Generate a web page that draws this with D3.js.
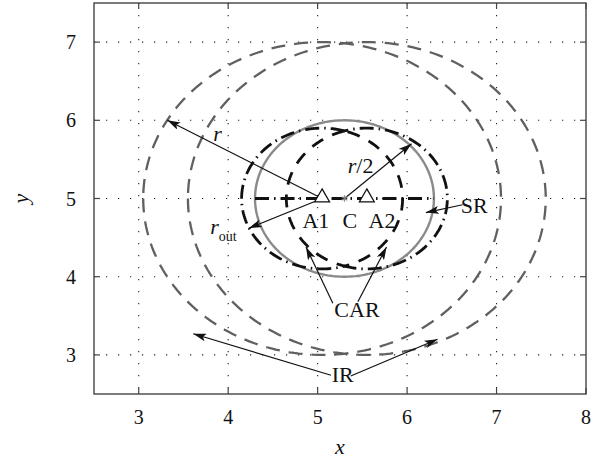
<!DOCTYPE html>
<html>
<head>
<meta charset="utf-8">
<script src="https://cdn.jsdelivr.net/npm/d3@7"></script>
<style>
body { margin: 0; background: #fff; }
text { font-family: "Liberation Serif", "DejaVu Serif", serif; fill: #111; }
</style>
</head>
<body>
<svg id="chart"></svg>
<script>
// values
const xTicks = [3, 4, 5, 6, 7, 8];
const yTicks = [3, 4, 5, 6, 7];
const anchorNames = ["A1", "A2"];
const anchorX = [5.05, 5.55];
const anchorY = [5, 5];
const centreX = 5.3, centreY = 5;
const rangeR = 2;     // r
const outR = 0.9;     // r_out
const halfR = 1;      // r/2

// arrows: tail -> tip, data units
const arrowFrom = [[5.05, 5], [5.05, 5], [5.3, 5], [6.62, 4.92], [5.17, 3.66], [5.45, 3.68], [5.15, 2.74], [5.37, 2.73]];
const arrowTo = [[3.32, 6], [4.23, 4.62], [6.05, 5.7], [6.21, 4.82], [4.87, 4.38], [5.77, 4.38], [3.61, 3.27], [6.34, 3.2]];

const labelText = ["A1", "C", "A2", "SR", "CAR", "IR"];
const labelX = [4.98, 5.36, 5.72, 6.75, 5.44, 5.28];
const labelY = [4.62, 4.62, 4.62, 4.82, 3.48, 2.65];

const margin = { top: 3, right: 27, bottom: 69, left: 94 },
    width = 613 - margin.left - margin.right,
    height = 463 - margin.top - margin.bottom;

const svg = d3.select("#chart")
    .attr("width", 613)
    .attr("height", 463);

const g = svg.append("g")
    .attr("transform", `translate(${margin.left},${margin.top})`);

const x = d3.scaleLinear().domain([2.5, 8]).range([0, width]);
const y = d3.scaleLinear().domain([2.5, 7.5]).range([height, 0]);

svg.append("defs").append("marker")
    .attr("id", "head")
    .attr("viewBox", "0 0 13 8")
    .attr("refX", 13).attr("refY", 4)
    .attr("markerWidth", 13).attr("markerHeight", 8)
    .attr("markerUnits", "userSpaceOnUse")
    .attr("orient", "auto")
    .append("path")
    .attr("d", "M0,0 L13,4 L0,8 L3,4 Z")
    .attr("fill", "#111");

// dotted grid
g.selectAll(".gx").data(xTicks.filter(d => d < 8)).enter().append("line")
    .attr("x1", d => x(d)).attr("x2", d => x(d))
    .attr("y1", 0).attr("y2", height)
    .attr("stroke", "#222").attr("stroke-width", 1.1)
    .attr("stroke-dasharray", "1.2,10.8");
g.selectAll(".gy").data(yTicks).enter().append("line")
    .attr("y1", d => y(d)).attr("y2", d => y(d))
    .attr("x1", 0).attr("x2", width)
    .attr("stroke", "#222").attr("stroke-width", 1.1)
    .attr("stroke-dasharray", "1.2,10.8");

// circle helper in data space
function arcPts(cx, cy, r, a0, a1, n) {
    const pts = [];
    for (let i = 0; i <= n; i++) {
        const a = a0 + (a1 - a0) * i / n;
        pts.push([cx + r * Math.cos(a), cy + r * Math.sin(a)]);
    }
    return pts;
}
const line = d3.line().x(d => x(d[0])).y(d => y(d[1]));

// IR circles
anchorX.forEach((ax, i) => {
    g.append("path")
        .attr("d", line(arcPts(ax, anchorY[i], rangeR, Math.PI, 3 * Math.PI, 240)))
        .attr("fill", "none").attr("stroke", "#606060")
        .attr("stroke-width", 2.3).attr("stroke-dasharray", "14,9");
});

// SR circle
g.append("path")
    .attr("d", line(arcPts(centreX, centreY, halfR, 0, 2 * Math.PI, 200)))
    .attr("fill", "none").attr("stroke", "#8a8a8a").attr("stroke-width", 2.4);

// CAR: union (dash-dot) and lens (dashed) of the r_out circles
const t0 = Math.acos((anchorX[1] - anchorX[0]) / 2 / outR);
const unionPts = arcPts(anchorX[0], anchorY[0], outR, t0, 2 * Math.PI - t0, 120)
    .concat(arcPts(anchorX[1], anchorY[1], outR, -Math.PI + t0, Math.PI - t0, 120));
const lensPts = arcPts(anchorX[1], anchorY[1], outR, Math.PI - t0, Math.PI + t0, 80)
    .concat(arcPts(anchorX[0], anchorY[0], outR, -t0, t0, 80));
g.append("path").attr("d", line(unionPts) + "Z")
    .attr("fill", "none").attr("stroke", "#111").attr("stroke-width", 2.8)
    .attr("stroke-dasharray", "14,5,1.5,5");
g.append("path").attr("d", line(lensPts) + "Z")
    .attr("fill", "none").attr("stroke", "#111").attr("stroke-width", 2.8)
    .attr("stroke-dasharray", "13,10");

// diameter through C
g.append("line")
    .attr("x1", x(centreX - halfR)).attr("x2", x(centreX + halfR))
    .attr("y1", y(centreY)).attr("y2", y(centreY))
    .attr("stroke", "#111").attr("stroke-width", 2.8)
    .attr("stroke-dasharray", "14,5,1.5,5");

// arrows
g.selectAll(".arrow").data(arrowFrom).enter().append("line")
    .attr("x1", d => x(d[0])).attr("y1", d => y(d[1]))
    .attr("x2", (d, i) => x(arrowTo[i][0])).attr("y2", (d, i) => y(arrowTo[i][1]))
    .attr("stroke", "#111").attr("stroke-width", 1.2)
    .attr("marker-end", "url(#head)");

// anchors and centre
g.selectAll(".anchor").data(anchorX).enter().append("path")
    .attr("transform", (d, i) => `translate(${x(d)},${y(anchorY[i]) - 1})`)
    .attr("d", d3.symbol(d3.symbolTriangle, 95))
    .attr("fill", "#fff").attr("stroke", "#111").attr("stroke-width", 1.3);
g.append("path")
    .attr("transform", `translate(${x(centreX)},${y(centreY)})`)
    .attr("d", d3.symbol(d3.symbolAsterisk, 30))
    .attr("fill", "none").attr("stroke", "#888").attr("stroke-width", 1.2);

// text labels
g.selectAll(".lab").data(labelText).enter().append("text")
    .attr("x", (d, i) => x(labelX[i])).attr("y", (d, i) => y(labelY[i]))
    .attr("text-anchor", "middle").style("font-size", "22px")
    .text(d => d);

g.append("text").attr("x", x(3.88)).attr("y", y(5.74))
    .attr("text-anchor", "middle").style("font-size", "22px").style("font-style", "italic")
    .text("r");
const ro = g.append("text").attr("x", x(3.8)).attr("y", y(4.55))
    .style("font-size", "22px");
ro.append("tspan").style("font-style", "italic").text("r");
ro.append("tspan").attr("dy", 7).style("font-size", "14px").text("out");
const rh = g.append("text").attr("x", x(5.48)).attr("y", y(5.32))
    .attr("text-anchor", "middle").style("font-size", "22px");
rh.append("tspan").style("font-style", "italic").text("r");
rh.append("tspan").text("/2");

// box with inward ticks
g.append("rect").attr("width", width).attr("height", height)
    .attr("fill", "none").attr("stroke", "#444").attr("stroke-width", 1.4);
xTicks.forEach(t => {
    g.append("line").attr("x1", x(t)).attr("x2", x(t)).attr("y1", height).attr("y2", height - 6)
        .attr("stroke", "#444").attr("stroke-width", 1.2);
    g.append("line").attr("x1", x(t)).attr("x2", x(t)).attr("y1", 0).attr("y2", 6)
        .attr("stroke", "#444").attr("stroke-width", 1.2);
});
yTicks.forEach(t => {
    g.append("line").attr("y1", y(t)).attr("y2", y(t)).attr("x1", 0).attr("x2", 6)
        .attr("stroke", "#444").attr("stroke-width", 1.2);
    g.append("line").attr("y1", y(t)).attr("y2", y(t)).attr("x1", width).attr("x2", width - 6)
        .attr("stroke", "#444").attr("stroke-width", 1.2);
});

// tick labels
g.selectAll(".xt").data(xTicks).enter().append("text")
    .attr("x", d => x(d)).attr("y", height + 30)
    .attr("text-anchor", "middle").style("font-size", "20px")
    .text(d => d);
g.selectAll(".yt").data(yTicks).enter().append("text")
    .attr("x", -18).attr("y", d => y(d) + 7)
    .attr("text-anchor", "end").style("font-size", "20px")
    .text(d => d);

// axis titles
g.append("text").attr("x", width / 2).attr("y", height + 60)
    .attr("text-anchor", "middle").style("font-size", "22px").style("font-style", "italic")
    .text("x");
g.append("text").attr("transform", `translate(${-66},${height / 2}) rotate(-90)`)
    .attr("text-anchor", "middle").style("font-size", "22px").style("font-style", "italic")
    .text("y");
</script>
</body>
</html>
